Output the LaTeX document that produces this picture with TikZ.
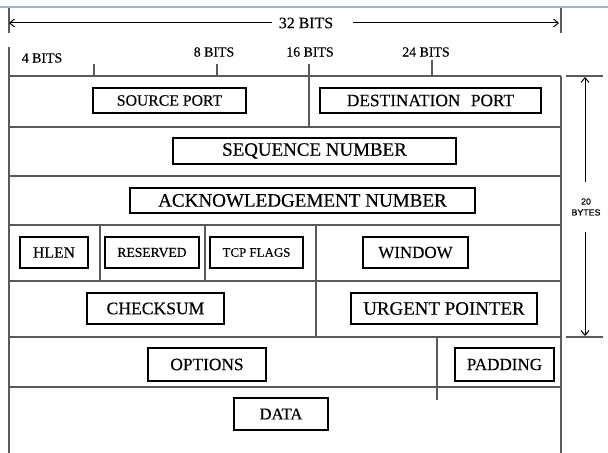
\documentclass[tikz,border=0pt]{standalone}
\usepackage{fontspec}
\setmainfont{Liberation Serif}[FakeBold=0.35]
\newfontfamily\sansf{Liberation Sans}[FakeBold=0.5]
\usetikzlibrary{arrows.meta}
\definecolor{gridgray}{HTML}{5A5A5A}
\definecolor{topblue}{HTML}{9FB3D6}
\tikzset{
  gridline/.style={draw=gridgray, line width=0.95pt},
  fld/.style={draw=black, line width=1.5pt, inner sep=0pt, text=black},
  bitlbl/.style={inner sep=0pt, font=\fontsize{10.4}{12}\selectfont},
  arr/.style={draw=black, line width=0.75pt, -{Straight Barb[length=3.5pt,width=6pt]}},
}
\newcommand{\fsz}[1]{\fontsize{#1}{#1}\selectfont}
\begin{document}
\begin{tikzpicture}[x=0.75pt,y=-0.75pt]
\useasboundingbox (0,0) rectangle (608,453);
% top thin blue line
\draw[draw=topblue, line width=0.8pt] (0,7) -- (608,7);
% 32 bits dimension
\draw[gridline] (9,8) -- (9,33);
\draw[gridline] (561,8) -- (561,33);
\node[inner sep=0pt, font=\fsz{11.9}] (t32) at (306,23) {32 BITS};
\coordinate (a32l) at (9,23);
\coordinate (a32r) at (559,23);
\coordinate (g32l) at (272,23);
\coordinate (g32r) at (353,23);
\draw[arr] (g32l) -- (a32l);
\draw[arr] (g32r) -- (a32r);
% bit labels
\node[bitlbl] (b4) at (42,58) {4 BITS};
\node[bitlbl] (b8) at (214,52) {8 BITS};
\node[bitlbl] (b16) at (310,52) {16 BITS};
\node[bitlbl] (b24) at (426,52) {24 BITS};
% ticks
\draw[gridline] (94,64) -- (94,76);
\draw[gridline] (217,64) -- (217,76);
\draw[gridline] (432,60) -- (432,76);
% frame
\draw[gridline] (9,47) -- (9,453);
\draw[gridline] (561,76) -- (561,453);
\foreach \yy in {76,127,176,225,281,337,387}
  \draw[gridline] (9,\yy) -- (561,\yy);
% dividers
\draw[gridline] (309,64) -- (309,127);
\draw[gridline] (100,225) -- (100,281);
\draw[gridline] (205,225) -- (205,281);
\draw[gridline] (316,225) -- (316,337);
\draw[gridline] (437,337) -- (437,400);
% field boxes
\node[fld, minimum width=114.75pt, minimum height=18.75pt, font=\fsz{11.8}] (sport) at (169.5,100.5) {SOURCE PORT};
\node[fld, minimum width=165.75pt, minimum height=18.75pt, font=\fsz{13}] (dport) at (430.5,100.5) {DESTINATION\hspace{0.35em} PORT};
\node[fld, minimum width=212.25pt, minimum height=19.5pt, font=\fsz{14.2}] (seq) at (314.5,151) {SEQUENCE NUMBER};
\node[fld, minimum width=258.75pt, minimum height=18.75pt, font=\fsz{14.3}] (ack) at (302.5,200.5) {ACKNOWLEDGEMENT NUMBER};
\node[fld, minimum width=51pt, minimum height=23.25pt, font=\fsz{11.8}] (hlen) at (54,252.5) {HLEN};
\node[fld, minimum width=70.5pt, minimum height=23.25pt, font=\fsz{10.2}] (rsv) at (152,252.5) {RESERVED};
\node[fld, minimum width=69.75pt, minimum height=23.25pt, font=\fsz{9.7}] (flags) at (256.5,252.5) {TCP FLAGS};
\node[fld, minimum width=78.75pt, minimum height=23.25pt, font=\fsz{12.7}] (win) at (415.5,252.5) {WINDOW};
\node[fld, minimum width=102.75pt, minimum height=23.25pt, font=\fsz{13.2}] (cks) at (155.5,308.5) {CHECKSUM};
\node[fld, minimum width=139.5pt, minimum height=23.25pt, font=\fsz{14.2}] (urg) at (444,308.5) {URGENT POINTER};
\node[fld, minimum width=88.5pt, minimum height=24.75pt, font=\fsz{13}] (opt) at (207,364.5) {OPTIONS};
\node[fld, minimum width=74.25pt, minimum height=24.75pt, font=\fsz{12.8}] (pad) at (504.5,364.5) {PADDING};
\node[fld, minimum width=70.5pt, minimum height=24pt, font=\fsz{12.4}] (data) at (281,414) {DATA};
% 20 bytes dimension
\draw[gridline] (566,76) -- (603,76);
\draw[gridline] (566,337) -- (603,337);
\node[inner sep=0pt, align=center, font=\sansf\fontsize{6.6}{8.2}\selectfont] (b20) at (586,207) {20\\BYTES};
\coordinate (btop) at (585,77);
\coordinate (bbot) at (585,336);
\coordinate (gtop) at (585,182);
\coordinate (gbot) at (585,232);
\draw[arr] (gtop) -- (btop);
\draw[arr] (gbot) -- (bbot);
\end{tikzpicture}
\end{document}
